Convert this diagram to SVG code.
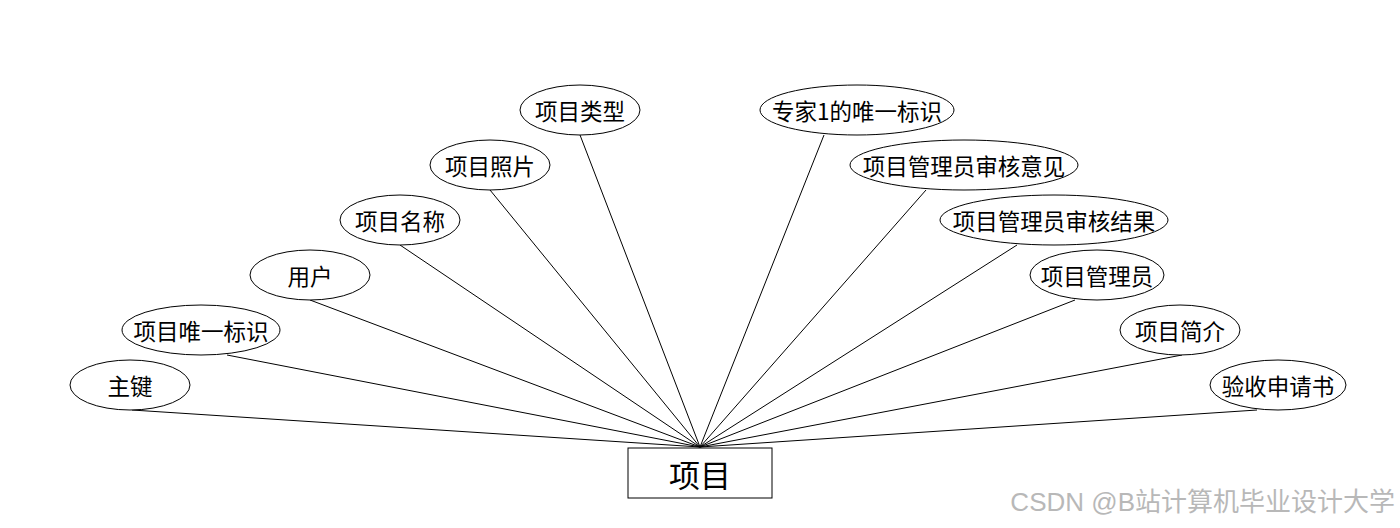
<svg xmlns="http://www.w3.org/2000/svg" width="1400" height="528" viewBox="0 0 1400 528">
<style>
.attr ellipse{fill:#fff;stroke:#000;stroke-width:1}
.t{font-family:"Noto Sans CJK SC","Liberation Sans",sans-serif;font-size:22.5px;fill:#000;text-anchor:middle;dominant-baseline:central}
.big{font-size:31px}
#edges line{stroke:#000;stroke-width:1}
</style>
<rect width="1400" height="528" fill="#fff"/>
<g id="edges">
<line x1="132" y1="410" x2="700" y2="447"/>
<line x1="227" y1="355" x2="700" y2="447"/>
<line x1="310" y1="300" x2="700" y2="447"/>
<line x1="400" y1="245" x2="700" y2="447"/>
<line x1="490" y1="190" x2="700" y2="447"/>
<line x1="580" y1="135" x2="700" y2="447"/>
<line x1="824" y1="135" x2="700" y2="447"/>
<line x1="926" y1="190" x2="700" y2="447"/>
<line x1="1017" y1="245" x2="700" y2="447"/>
<line x1="1075" y1="300" x2="700" y2="447"/>
<line x1="1182" y1="355" x2="700" y2="447"/>
<line x1="1257" y1="410" x2="700" y2="447"/>
</g>
<g id="entity">
<rect x="628" y="448" width="144" height="50" fill="#fff" stroke="#000"/>
<text class="t big" x="700" y="473">项目</text>
</g>
<g id="a1" class="attr"><ellipse cx="130" cy="385" rx="60" ry="25"/><text class="t" x="130" y="385">主键</text></g>
<g id="a2" class="attr"><ellipse cx="201" cy="330" rx="79" ry="25"/><text class="t" x="201" y="330">项目唯一标识</text></g>
<g id="a3" class="attr"><ellipse cx="310" cy="275" rx="60" ry="25"/><text class="t" x="310" y="275">用户</text></g>
<g id="a4" class="attr"><ellipse cx="400" cy="220" rx="60" ry="25"/><text class="t" x="400" y="220">项目名称</text></g>
<g id="a5" class="attr"><ellipse cx="490" cy="165" rx="60" ry="25"/><text class="t" x="490" y="165">项目照片</text></g>
<g id="a6" class="attr"><ellipse cx="580" cy="110" rx="60" ry="25"/><text class="t" x="580" y="110">项目类型</text></g>
<g id="a7" class="attr"><ellipse cx="857" cy="110" rx="97" ry="25"/><text class="t" x="857" y="110">专家1的唯一标识</text></g>
<g id="a8" class="attr"><ellipse cx="964" cy="165" rx="114" ry="25"/><text class="t" x="964" y="165">项目管理员审核意见</text></g>
<g id="a9" class="attr"><ellipse cx="1054" cy="220" rx="114" ry="25"/><text class="t" x="1054" y="220">项目管理员审核结果</text></g>
<g id="a10" class="attr"><ellipse cx="1097" cy="275" rx="67" ry="25"/><text class="t" x="1097" y="275">项目管理员</text></g>
<g id="a11" class="attr"><ellipse cx="1180" cy="330" rx="60" ry="25"/><text class="t" x="1180" y="330">项目简介</text></g>
<g id="a12" class="attr"><ellipse cx="1278" cy="385" rx="68" ry="25"/><text class="t" x="1278" y="385">验收申请书</text></g>
<text x="1395" y="511" font-family="'Liberation Sans','Noto Sans CJK SC',sans-serif" font-size="26" fill="#b8b8b8" text-anchor="end">CSDN @B站计算机毕业设计大学</text>
</svg>
